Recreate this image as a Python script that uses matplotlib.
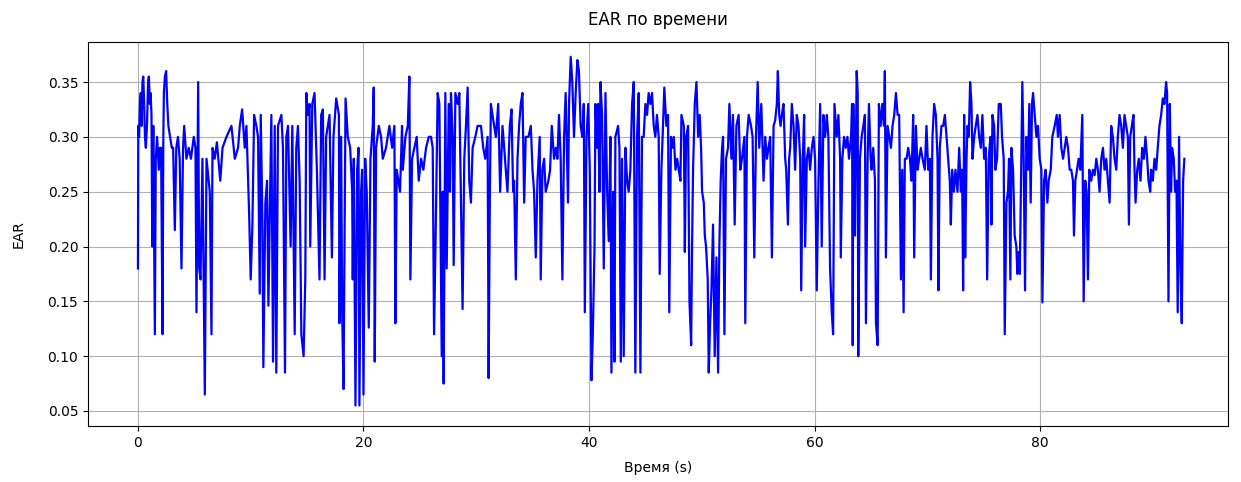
import numpy as np
import matplotlib
matplotlib.use("Agg")
import matplotlib.pyplot as plt

# Time (s) and EAR values, in segments
t_a = [0.00, 0.03, 0.10, 0.18, 0.25, 0.33, 0.40, 0.47, 0.55, 0.62, 0.70, 0.80, 0.90, 0.97, 1.05, 1.12, 1.20, 1.27, 1.36, 1.50,
       1.58, 1.70, 1.85, 1.95, 2.05, 2.18, 2.25, 2.30, 2.39, 2.50, 2.60, 2.70, 2.85, 3.00, 3.12, 3.27, 3.40, 3.55, 3.70, 3.86,
       4.00, 4.10, 4.30, 4.50, 4.70, 4.95, 5.10, 5.19, 5.34, 5.43, 5.55, 5.72, 5.93, 6.08, 6.37, 6.52, 6.61, 6.80, 7.00, 7.30, 7.50]
e_a = [0.18, 0.31, 0.30, 0.33, 0.34, 0.31, 0.35, 0.355, 0.33, 0.30, 0.29, 0.31, 0.35, 0.355, 0.33, 0.34, 0.32, 0.20, 0.31, 0.12,
       0.28, 0.30, 0.27, 0.29, 0.29, 0.12, 0.30, 0.34, 0.355, 0.36, 0.33, 0.31, 0.30, 0.29, 0.29, 0.215, 0.29, 0.30, 0.28, 0.18,
       0.29, 0.31, 0.28, 0.29, 0.28, 0.30, 0.29, 0.14, 0.35, 0.18, 0.17, 0.28, 0.065, 0.28, 0.25, 0.12, 0.29, 0.28, 0.295, 0.26, 0.29]

t_b = [7.85, 8.29, 8.59, 8.88, 9.03, 9.24, 9.47, 9.62, 9.86, 10.00, 10.15, 10.30, 10.50, 10.65, 10.80, 10.89, 11.04, 11.12, 11.30, 11.45,
       11.57, 11.83, 11.98, 12.13, 12.27, 12.42, 12.72, 12.86, 13.04, 13.16, 13.31, 13.54, 13.69, 13.90, 14.04, 14.19, 14.34, 14.49, 14.69, 14.84,
       14.93, 15.08, 15.22, 15.28, 15.46, 15.66]
e_b = [0.30, 0.31, 0.28, 0.29, 0.31, 0.325, 0.29, 0.31, 0.23, 0.17, 0.22, 0.32, 0.31, 0.30, 0.157, 0.32, 0.22, 0.09, 0.24, 0.26,
       0.146, 0.32, 0.095, 0.31, 0.085, 0.31, 0.32, 0.29, 0.085, 0.30, 0.31, 0.20, 0.31, 0.12, 0.29, 0.31, 0.26, 0.12, 0.10, 0.17,
       0.34, 0.32, 0.33, 0.20, 0.33, 0.34]

t_c = [15.87, 16.10, 16.25, 16.40, 16.55, 16.69, 16.84, 16.99, 17.20, 17.34, 17.58, 17.82, 17.87, 18.02, 18.11, 18.23, 18.41, 18.61, 18.82, 19.00,
       19.05, 19.14, 19.29, 19.44, 19.56, 19.64, 19.79, 19.88, 20.00, 20.15, 20.29, 20.38, 20.47, 20.62, 20.82, 20.91, 21.00, 21.12, 21.36, 21.56,
       21.71, 22.00, 22.30, 22.54, 22.74, 22.83, 22.95, 23.24, 23.42]
e_c = [0.27, 0.17, 0.32, 0.325, 0.17, 0.30, 0.31, 0.32, 0.19, 0.30, 0.335, 0.32, 0.13, 0.30, 0.14, 0.07, 0.335, 0.30, 0.29, 0.25,
       0.17, 0.28, 0.055, 0.27, 0.29, 0.055, 0.25, 0.27, 0.065, 0.28, 0.25, 0.19, 0.126, 0.28, 0.31, 0.345, 0.095, 0.29, 0.31, 0.30,
       0.28, 0.29, 0.31, 0.29, 0.31, 0.13, 0.27, 0.25, 0.31]

t_d = [23.49, 23.72, 23.93, 24.07, 24.16, 24.31, 24.52, 24.72, 24.90, 25.11, 25.31, 25.55, 25.79, 25.99, 26.14, 26.26, 26.43, 26.58, 26.73, 26.94,
       27.03, 27.11, 27.26, 27.38, 27.56, 27.67, 27.76, 27.91, 28.00, 28.15, 28.35, 28.50, 28.59, 28.79, 28.94, 29.09, 29.24, 29.38, 29.53, 29.68,
       29.92, 30.12, 30.42, 30.62, 30.80, 31.01, 31.10, 31.21, 31.30]
e_d = [0.27, 0.30, 0.31, 0.355, 0.17, 0.28, 0.29, 0.30, 0.26, 0.28, 0.27, 0.29, 0.30, 0.30, 0.29, 0.12, 0.23, 0.34, 0.33, 0.10,
       0.25, 0.075, 0.34, 0.18, 0.33, 0.25, 0.34, 0.30, 0.183, 0.34, 0.33, 0.34, 0.28, 0.143, 0.28, 0.31, 0.345, 0.26, 0.24, 0.29,
       0.30, 0.31, 0.31, 0.29, 0.28, 0.30, 0.08, 0.25, 0.33]

t_e = [31.44, 31.59, 31.74, 31.95, 32.12, 32.33, 32.48, 32.62, 32.77, 32.98, 33.13, 33.27, 33.36, 33.51, 33.66, 33.80, 33.95, 34.10, 34.25, 34.39,
       34.63, 34.84, 34.99, 35.13, 35.28, 35.43, 35.63, 35.72, 35.87, 36.02, 36.16, 36.40, 36.55, 36.70, 36.90, 37.05, 37.20, 37.34, 37.49, 37.64,
       37.79, 37.93, 38.14, 38.23, 38.38, 38.52, 38.67, 38.82, 38.97, 39.11, 39.26, 39.41]
e_e = [0.32, 0.31, 0.30, 0.33, 0.25, 0.31, 0.29, 0.27, 0.25, 0.31, 0.325, 0.25, 0.26, 0.17, 0.28, 0.31, 0.33, 0.34, 0.24, 0.30,
       0.30, 0.31, 0.27, 0.25, 0.19, 0.26, 0.30, 0.17, 0.27, 0.28, 0.25, 0.26, 0.27, 0.31, 0.28, 0.29, 0.28, 0.32, 0.28, 0.17,
       0.30, 0.34, 0.24, 0.33, 0.373, 0.35, 0.30, 0.34, 0.37, 0.36, 0.31, 0.30]

t_f = [39.54, 39.63, 39.78, 39.93, 40.07, 40.22, 40.34, 40.49, 40.57, 40.72, 40.81, 40.93, 41.02, 41.16, 41.31, 41.46, 41.61, 41.75, 41.90, 41.99,
       42.14, 42.26, 42.34, 42.58, 42.70, 42.82, 42.93, 43.08, 43.23, 43.38, 43.52, 43.67, 43.82, 43.97, 44.11, 44.26, 44.41, 44.56, 44.70, 44.85,
       45.00, 45.15, 45.29, 45.44, 45.59, 45.74, 45.88, 46.03, 46.18, 46.27, 46.42, 46.53, 46.68, 46.86, 47.01, 47.12, 47.27]
e_f = [0.33, 0.14, 0.30, 0.33, 0.27, 0.078, 0.12, 0.20, 0.33, 0.29, 0.33, 0.25, 0.35, 0.32, 0.18, 0.34, 0.25, 0.205, 0.30, 0.085,
       0.25, 0.095, 0.30, 0.31, 0.29, 0.095, 0.28, 0.10, 0.29, 0.26, 0.25, 0.27, 0.33, 0.35, 0.085, 0.30, 0.34, 0.085, 0.30, 0.30,
       0.33, 0.32, 0.34, 0.33, 0.34, 0.31, 0.30, 0.32, 0.30, 0.175, 0.27, 0.30, 0.345, 0.31, 0.32, 0.14, 0.30]

t_g = [47.37, 47.52, 47.67, 47.82, 47.96, 48.11, 48.20, 48.41, 48.50, 48.61, 48.79, 48.91, 49.06, 49.14, 49.23, 49.38, 49.53, 49.68, 49.82, 49.94,
       50.03, 50.18, 50.27, 50.38, 50.53, 50.62, 50.74, 50.86, 51.00, 51.15, 51.30, 51.45, 51.56, 51.68, 51.80, 51.89, 52.01, 52.15, 52.33, 52.45,
       52.63, 52.77, 52.92, 53.07, 53.27, 53.42, 53.57, 53.78, 53.86, 54.01, 54.16, 54.37, 54.51, 54.66, 54.81, 54.96, 55.10, 55.28]
e_g = [0.29, 0.30, 0.27, 0.28, 0.27, 0.26, 0.32, 0.31, 0.195, 0.30, 0.31, 0.15, 0.11, 0.20, 0.27, 0.33, 0.35, 0.30, 0.32, 0.29,
       0.25, 0.24, 0.21, 0.20, 0.17, 0.085, 0.13, 0.16, 0.22, 0.10, 0.19, 0.085, 0.20, 0.26, 0.29, 0.30, 0.12, 0.28, 0.29, 0.33,
       0.28, 0.32, 0.22, 0.31, 0.32, 0.27, 0.28, 0.30, 0.13, 0.30, 0.32, 0.31, 0.30, 0.19, 0.30, 0.35, 0.29, 0.33]

t_h = [55.48, 55.63, 55.78, 55.92, 56.07, 56.22, 56.37, 56.51, 56.66, 56.75, 56.87, 56.99, 57.10, 57.25, 57.40, 57.49, 57.64, 57.75, 57.84, 57.99,
       58.14, 58.28, 58.43, 58.58, 58.73, 58.82, 58.96, 59.08, 59.17, 59.32, 59.46, 59.61, 59.76, 59.91, 60.05, 60.20, 60.35, 60.50, 60.64, 60.79,
       60.94, 61.09, 61.23, 61.38, 61.53, 61.65, 61.77, 61.97, 62.12, 62.27, 62.33, 62.47, 62.62, 62.77, 62.92, 63.06, 63.24, 63.33, 63.39]
e_h = [0.26, 0.30, 0.28, 0.29, 0.30, 0.19, 0.31, 0.315, 0.33, 0.36, 0.32, 0.31, 0.32, 0.33, 0.28, 0.27, 0.22, 0.28, 0.29, 0.33,
       0.31, 0.27, 0.32, 0.31, 0.28, 0.16, 0.28, 0.32, 0.20, 0.28, 0.29, 0.27, 0.29, 0.30, 0.28, 0.16, 0.26, 0.33, 0.20, 0.32,
       0.30, 0.32, 0.30, 0.18, 0.14, 0.12, 0.33, 0.30, 0.32, 0.28, 0.19, 0.28, 0.30, 0.29, 0.30, 0.28, 0.30, 0.33, 0.11]

t_i = [63.44, 63.59, 63.74, 63.83, 63.88, 64.03, 64.18, 64.33, 64.47, 64.56, 64.71, 64.83, 64.98, 65.06, 65.21, 65.36, 65.45, 65.60, 65.71, 65.86,
       66.01, 66.16, 66.24, 66.33, 66.48, 66.63, 66.78, 66.92, 67.07, 67.22, 67.37, 67.51, 67.66, 67.78, 67.90, 68.01, 68.16, 68.31, 68.46, 68.60,
       68.75, 68.84, 68.99, 69.14, 69.28, 69.43, 69.58, 69.78, 69.93, 70.08, 70.23, 70.32, 70.46, 70.61, 70.76, 70.91, 70.99, 71.11, 71.26]
e_i = [0.33, 0.21, 0.36, 0.34, 0.10, 0.28, 0.30, 0.31, 0.32, 0.13, 0.28, 0.33, 0.28, 0.27, 0.29, 0.26, 0.13, 0.11, 0.33, 0.31,
       0.33, 0.31, 0.36, 0.19, 0.31, 0.30, 0.29, 0.31, 0.32, 0.34, 0.32, 0.32, 0.17, 0.27, 0.14, 0.28, 0.28, 0.29, 0.28, 0.26,
       0.32, 0.19, 0.31, 0.27, 0.28, 0.29, 0.28, 0.27, 0.31, 0.27, 0.28, 0.17, 0.30, 0.33, 0.32, 0.28, 0.16, 0.29, 0.31]

t_j = [71.41, 71.56, 71.71, 71.85, 72.00, 72.09, 72.21, 72.36, 72.50, 72.68, 72.83, 72.98, 73.09, 73.18, 73.27, 73.36, 73.48, 73.57, 73.68, 73.80,
       73.92, 74.01, 74.16, 74.30, 74.45, 74.60, 74.75, 74.89, 75.04, 75.19, 75.31, 75.45, 75.60, 75.69, 75.78, 75.93, 76.04, 76.19, 76.34, 76.52,
       76.63, 76.78, 76.87, 77.02, 77.16, 77.25, 77.37, 77.46, 77.61, 77.75, 77.90, 77.99, 78.11, 78.20, 78.29, 78.43, 78.55, 78.67, 78.79, 78.93,
       79.05, 79.17, 79.29]
e_j = [0.31, 0.32, 0.30, 0.28, 0.26, 0.22, 0.27, 0.25, 0.27, 0.25, 0.29, 0.25, 0.27, 0.16, 0.32, 0.19, 0.28, 0.31, 0.30, 0.35,
       0.33, 0.28, 0.30, 0.31, 0.32, 0.30, 0.29, 0.32, 0.28, 0.29, 0.17, 0.28, 0.30, 0.22, 0.32, 0.31, 0.27, 0.28, 0.33, 0.33,
       0.30, 0.28, 0.12, 0.24, 0.25, 0.28, 0.17, 0.29, 0.27, 0.21, 0.20, 0.175, 0.195, 0.175, 0.24, 0.35, 0.28, 0.16, 0.30, 0.27,
       0.33, 0.24, 0.33]

t_k = [79.38, 79.53, 79.68, 79.82, 79.97, 80.12, 80.21, 80.36, 80.50, 80.65, 80.77, 80.95, 81.09, 81.30, 81.48, 81.59, 81.74, 81.89, 82.04, 82.19,
       82.33, 82.48, 82.63, 82.77, 82.92, 83.01, 83.13, 83.28, 83.42, 83.57, 83.75, 83.87, 84.01, 84.13, 84.25, 84.37, 84.54, 84.69, 84.84, 84.99,
       85.13, 85.28, 85.43, 85.58, 85.72, 85.87, 86.02, 86.17, 86.31, 86.46, 86.61, 86.76, 86.90, 87.05, 87.20]
e_k = [0.34, 0.32, 0.30, 0.31, 0.28, 0.27, 0.149, 0.26, 0.27, 0.24, 0.26, 0.27, 0.30, 0.31, 0.32, 0.30, 0.32, 0.29, 0.28, 0.29,
       0.30, 0.29, 0.27, 0.27, 0.26, 0.21, 0.26, 0.27, 0.28, 0.27, 0.32, 0.15, 0.26, 0.25, 0.17, 0.27, 0.26, 0.27, 0.265, 0.28,
       0.27, 0.25, 0.28, 0.29, 0.27, 0.28, 0.26, 0.24, 0.31, 0.30, 0.28, 0.27, 0.30, 0.32, 0.31]

t_l = [87.35, 87.49, 87.64, 87.79, 87.88, 88.00, 88.14, 88.29, 88.38, 88.47, 88.62, 88.76, 88.91, 89.06, 89.21, 89.35, 89.50, 89.62, 89.77, 89.85,
       90.00, 90.15, 90.30, 90.44, 90.59, 90.74, 90.89, 91.03, 91.18, 91.27, 91.39, 91.51, 91.62, 91.71, 91.86, 91.98, 92.10, 92.21, 92.33, 92.45,
       92.57, 92.69, 92.80]
e_l = [0.29, 0.32, 0.31, 0.30, 0.22, 0.30, 0.31, 0.32, 0.27, 0.24, 0.27, 0.28, 0.26, 0.29, 0.28, 0.30, 0.28, 0.26, 0.25, 0.27,
       0.26, 0.28, 0.27, 0.29, 0.31, 0.32, 0.335, 0.33, 0.35, 0.34, 0.15, 0.33, 0.25, 0.29, 0.28, 0.25, 0.26, 0.14, 0.30, 0.18,
       0.13, 0.26, 0.28]

time_s = np.concatenate([t_a, t_b, t_c, t_d, t_e, t_f, t_g, t_h, t_i, t_j, t_k, t_l])
ear = np.concatenate([e_a, e_b, e_c, e_d, e_e, e_f, e_g, e_h, e_i, e_j, e_k, e_l])

fig = plt.figure(figsize=(12.41, 4.82), dpi=100)
ax = fig.add_axes([88 / 1241, 1 - 426 / 482, (1228 - 88) / 1241, (426 - 42) / 482])
ax.plot(time_s, ear, color="blue", linewidth=1.6)
ax.set_xlim(-4.43, 96.67)
ax.set_ylim(0.0363, 0.3865)
ax.set_yticks([0.05, 0.10, 0.15, 0.20, 0.25, 0.30, 0.35])
ax.set_xticks([0, 20, 40, 60, 80])
ax.grid(True)
ax.set_title("EAR по времени", pad=12)
ax.set_xlabel("Время (s)", labelpad=8)
ax.set_ylabel("EAR", labelpad=16)
fig.savefig("out.png", dpi=100)
